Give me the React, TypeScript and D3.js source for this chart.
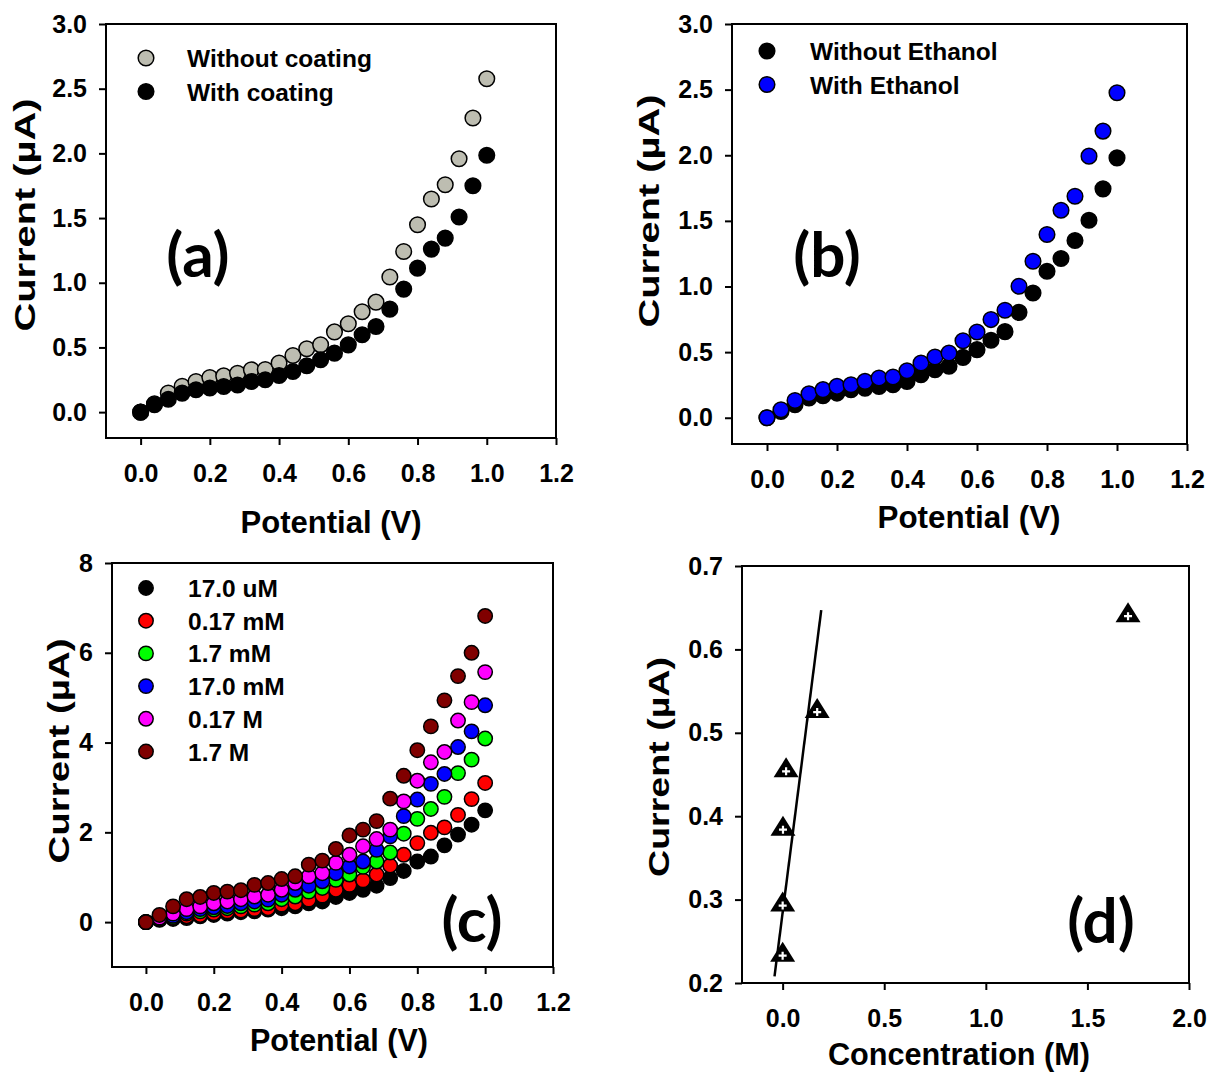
import React, { useEffect, useRef } from "react";
import * as d3 from "d3";

// potential sweep (V) used by panels a, b, c
const potential = [0, 0.04, 0.08, 0.12, 0.16, 0.2, 0.24, 0.28, 0.32, 0.36, 0.4, 0.44, 0.48, 0.52, 0.56, 0.6, 0.64, 0.68, 0.72, 0.76, 0.8, 0.84, 0.88, 0.92, 0.96, 1.0];

// panel (a)
const withoutCoating = [0, 0.065, 0.147, 0.2, 0.237, 0.268, 0.28, 0.3, 0.327, 0.33, 0.379, 0.438, 0.49, 0.52, 0.62, 0.683, 0.776, 0.85, 1.044, 1.242, 1.448, 1.647, 1.758, 1.959, 2.273, 2.577];
const withCoating = [0, 0.057, 0.1, 0.147, 0.173, 0.186, 0.198, 0.21, 0.237, 0.25, 0.283, 0.314, 0.358, 0.405, 0.456, 0.52, 0.598, 0.662, 0.796, 0.951, 1.113, 1.26, 1.345, 1.508, 1.75, 1.985];

// panel (b)
const withoutEthanol = [0, 0.048, 0.1, 0.15, 0.168, 0.188, 0.214, 0.226, 0.239, 0.252, 0.277, 0.328, 0.366, 0.392, 0.46, 0.519, 0.59, 0.656, 0.803, 0.951, 1.116, 1.213, 1.35, 1.505, 1.744, 1.98];
const withEthanol = [0, 0.061, 0.132, 0.183, 0.214, 0.239, 0.252, 0.277, 0.303, 0.31, 0.358, 0.417, 0.463, 0.493, 0.587, 0.653, 0.748, 0.819, 1.002, 1.192, 1.396, 1.581, 1.688, 1.993, 2.184, 2.476];

// panel (c)
const conc17uM = [0, 0.05, 0.07, 0.09, 0.13, 0.16, 0.19, 0.22, 0.24, 0.28, 0.31, 0.35, 0.42, 0.46, 0.56, 0.65, 0.72, 0.81, 0.98, 1.14, 1.35, 1.46, 1.71, 1.95, 2.17, 2.49];
const conc017mM = [0, 0.06, 0.09, 0.13, 0.16, 0.2, 0.24, 0.26, 0.29, 0.31, 0.39, 0.42, 0.5, 0.59, 0.72, 0.83, 0.93, 1.06, 1.26, 1.5, 1.76, 1.99, 2.11, 2.39, 2.74, 3.1];
const conc17mM = [0, 0.07, 0.11, 0.19, 0.24, 0.28, 0.31, 0.35, 0.39, 0.42, 0.51, 0.57, 0.68, 0.76, 0.94, 1.06, 1.23, 1.35, 1.55, 1.97, 2.3, 2.52, 2.79, 3.32, 3.62, 4.09];
const conc170mM = [0, 0.08, 0.14, 0.22, 0.29, 0.33, 0.36, 0.42, 0.46, 0.5, 0.61, 0.72, 0.81, 0.91, 1.09, 1.24, 1.35, 1.61, 1.91, 2.36, 2.73, 3.08, 3.3, 3.9, 4.25, 4.83];
const conc017M = [0, 0.1, 0.19, 0.29, 0.35, 0.42, 0.46, 0.51, 0.57, 0.61, 0.72, 0.87, 1.02, 1.09, 1.32, 1.5, 1.69, 1.85, 2.06, 2.69, 3.15, 3.56, 3.79, 4.49, 4.9, 5.57];
const conc17M = [0, 0.16, 0.35, 0.51, 0.56, 0.65, 0.68, 0.71, 0.83, 0.87, 0.96, 1.02, 1.28, 1.37, 1.63, 1.93, 2.06, 2.25, 2.75, 3.26, 3.83, 4.36, 4.94, 5.48, 6.0, 6.82];
const concLabels = ["17.0 uM", "0.17 mM", "1.7 mM", "17.0 mM", "0.17 M", "1.7 M"];

// panel (d)
const concentration = [0.000017, 0.00017, 0.0017, 0.017, 0.17, 1.7];
const peakCurrent = [0.234, 0.294, 0.385, 0.455, 0.526, 0.641];
const fitX = [-0.04, 0.19];
const fitY = [0.208, 0.647];

// tick labels
const potentialTicks = [0, 0.2, 0.4, 0.6, 0.8, 1.0, 1.2];
const currentTicksAB = [0, 0.5, 1.0, 1.5, 2.0, 2.5, 3.0];
const currentTicksC = [0, 2, 4, 6, 8];
const concTicks = [0, 0.5, 1.0, 1.5, 2.0];
const currentTicksD = [0.2, 0.3, 0.4, 0.5, 0.6, 0.7];

const FONT = "'Liberation Sans', Arial, Helvetica, sans-serif";
const LABEL_FONT = "Lato, 'Open Sans', sans-serif";

function drawPanel(svg, p) {
  const x = d3.scaleLinear().domain(p.xDomain).range([p.left, p.right]);
  const y = d3.scaleLinear().domain(p.yDomain).range([p.bottom, p.top]);
  const g = svg.append("g");

  // bottom axis
  const xa = g.append("g")
    .attr("transform", `translate(0,${p.bottom})`)
    .call(d3.axisBottom(x).tickValues(p.xTicks).tickFormat(p.xFmt).tickSize(7).tickSizeOuter(0).tickPadding(19));
  // left axis
  const ya = g.append("g")
    .attr("transform", `translate(${p.left},0)`)
    .call(d3.axisLeft(y).tickValues(p.yTicks).tickFormat(p.yFmt).tickSize(7).tickSizeOuter(0).tickPadding(12));

  [xa, ya].forEach((a) => {
    a.select(".domain").remove();
    a.attr("font-family", FONT).attr("font-size", 25).attr("font-weight", "bold");
    a.selectAll("line").attr("stroke", "#000").attr("stroke-width", 2);
    a.selectAll("text").attr("fill", "#000");
  });

  // frame
  g.append("rect")
    .attr("x", p.left).attr("y", p.top)
    .attr("width", p.right - p.left).attr("height", p.bottom - p.top)
    .attr("fill", "none").attr("stroke", "#000").attr("stroke-width", 2);

  // axis titles
  g.append("text")
    .attr("x", p.xTitle[0]).attr("y", p.xTitle[1])
    .attr("text-anchor", "middle")
    .attr("font-family", FONT).attr("font-size", 31).attr("font-weight", "bold")
    .attr("textLength", p.xTitle[2]).attr("lengthAdjust", "spacingAndGlyphs")
    .text(p.xLabel);
  g.append("text")
    .attr("transform", `translate(${p.yTitle[0]},${p.yTitle[1]}) rotate(-90)`)
    .attr("text-anchor", "middle")
    .attr("font-family", FONT).attr("font-size", 30).attr("font-weight", "bold")
    .attr("textLength", p.yTitle[2]).attr("lengthAdjust", "spacingAndGlyphs")
    .text("Current (\u00b5A)");

  // data
  (p.series || []).forEach((s) => {
    g.append("g").selectAll("circle")
      .data(s.values)
      .join("circle")
      .attr("cx", (d, i) => x(p.xs[i]))
      .attr("cy", (d) => y(d))
      .attr("r", p.r)
      .attr("fill", s.fill)
      .attr("stroke", "#000")
      .attr("stroke-width", 1.5);
  });

  // legend
  if (p.legend) {
    const lg = g.append("g");
    (p.series || []).forEach((s, i) => {
      const cy = p.legend.y + i * p.legend.dy;
      lg.append("circle").attr("cx", p.legend.x).attr("cy", cy).attr("r", p.r)
        .attr("fill", s.fill).attr("stroke", "#000").attr("stroke-width", 1.5);
      lg.append("text").attr("x", p.legend.tx).attr("y", cy + 9)
        .attr("font-family", FONT).attr("font-size", 24.5).attr("font-weight", "bold")
        .text(s.name);
    });
  }

  // panel label
  g.append("text")
    .attr("x", p.tag[0]).attr("y", p.tag[1])
    .attr("text-anchor", "middle")
    .attr("font-family", LABEL_FONT).attr("font-size", 62).attr("font-weight", 700)
    .text(p.tagText);

  return { g, x, y };
}

export default function App() {
  const ref = useRef(null);

  useEffect(() => {
    const svg = d3.select(ref.current);
    svg.selectAll("*").remove();
    svg.append("rect").attr("width", 1207).attr("height", 1074).attr("fill", "#fff");

    const f1 = d3.format(".1f");

    drawPanel(svg, {
      xDomain: [-0.1, 1.2], yDomain: [-0.2, 3.0],
      left: 106, right: 556, top: 24, bottom: 438,
      xTicks: potentialTicks, yTicks: currentTicksAB, xFmt: f1, yFmt: f1,
      xLabel: "Potential (V)", xTitle: [331, 533, 181], yTitle: [35, 215, 233],
      xs: potential, r: 7.8,
      series: [
        { name: "Without coating", values: withoutCoating, fill: "#bdbdb1" },
        { name: "With coating", values: withCoating, fill: "#000" },
      ],
      legend: { x: 146, y: 58, dy: 33.5, tx: 187 },
      tag: [198, 277], tagText: "(a)",
    });

    drawPanel(svg, {
      xDomain: [-0.1, 1.2], yDomain: [-0.2, 3.0],
      left: 732, right: 1187, top: 24, bottom: 444,
      xTicks: potentialTicks, yTicks: currentTicksAB, xFmt: f1, yFmt: f1,
      xLabel: "Potential (V)", xTitle: [969, 528, 183], yTitle: [659, 211, 233],
      xs: potential, r: 7.8,
      series: [
        { name: "Without Ethanol", values: withoutEthanol, fill: "#000" },
        { name: "With Ethanol", values: withEthanol, fill: "#0000ff" },
      ],
      legend: { x: 767, y: 51, dy: 33.5, tx: 810 },
      tag: [827, 277], tagText: "(b)",
    });

    drawPanel(svg, {
      xDomain: [-0.1, 1.2], yDomain: [-1, 8],
      left: 112, right: 553, top: 563, bottom: 967,
      xTicks: potentialTicks, yTicks: currentTicksC, xFmt: f1, yFmt: d3.format("d"),
      xLabel: "Potential (V)", xTitle: [339, 1051, 178], yTitle: [69, 751, 225],
      xs: potential, r: 7.2,
      series: [
        { name: concLabels[0], values: conc17uM, fill: "#000" },
        { name: concLabels[1], values: conc017mM, fill: "#ff0000" },
        { name: concLabels[2], values: conc17mM, fill: "#00ff00" },
        { name: concLabels[3], values: conc170mM, fill: "#0000ff" },
        { name: concLabels[4], values: conc017M, fill: "#ff00ff" },
        { name: concLabels[5], values: conc17M, fill: "#800000" },
      ],
      legend: { x: 146, y: 588, dy: 32.7, tx: 188 },
      tag: [472, 942], tagText: "(c)",
    });

    const d = drawPanel(svg, {
      xDomain: [-0.2, 2.0], yDomain: [0.2, 0.7],
      left: 742, right: 1189, top: 566, bottom: 983,
      xTicks: concTicks, yTicks: currentTicksD, xFmt: f1, yFmt: f1,
      xLabel: "Concentration (M)", xTitle: [959, 1065, 262], yTitle: [669, 767, 220],
      tag: [1101, 943], tagText: "(d)",
    });

    // regression line
    const line = d3.line().x((v) => d.x(v[0])).y((v) => d.y(v[1]));
    d.g.append("path")
      .datum(fitX.map((v, i) => [v, fitY[i]]))
      .attr("d", line)
      .attr("fill", "none").attr("stroke", "#000").attr("stroke-width", 2.5);

    // triangle markers with white cross
    const pts = d.g.append("g").selectAll("g")
      .data(concentration.map((c, i) => [c, peakCurrent[i]]))
      .join("g")
      .attr("transform", (v) => `translate(${d.x(v[0])},${d.y(v[1])})`);
    pts.append("path").attr("d", "M0,-13L12.5,7L-12.5,7Z").attr("fill", "#000");
    pts.append("path").attr("d", "M-4,1H4M0,-3V5").attr("stroke", "#fff").attr("stroke-width", 2.2);
  }, []);

  return (
    <svg
      ref={ref}
      width={1207}
      height={1074}
      style={{ position: "absolute", left: 0, top: 0, display: "block" }}
    />
  );
}
